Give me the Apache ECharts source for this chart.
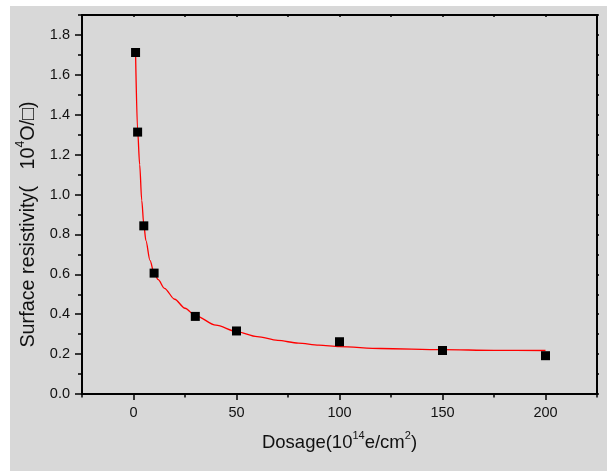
<!DOCTYPE html>
<html>
<head>
<meta charset="utf-8">
<script src="https://cdn.jsdelivr.net/npm/echarts@6/dist/echarts.min.js"></script>
<style>
html,body{margin:0;padding:0;background:#ffffff;}
#chart{width:607px;height:471px;}
</style>
</head>
<body>
<div id="chart"></div>
<script>
// measured data points
var dosage = [1, 2, 5, 10, 30, 50, 100, 150, 200];
var resistivity = [1.712, 1.313, 0.843, 0.606, 0.389, 0.316, 0.262, 0.218, 0.192];
// fitted curve
var fitX = [1, 2, 3, 4, 5, 6, 8, 10, 12, 15, 20, 25, 30, 40, 50, 60, 70, 80, 90, 100, 120, 150, 175, 200];
var fitY = [1.71, 1.32, 1.15, 0.97, 0.85, 0.77, 0.67, 0.605, 0.573, 0.53, 0.475, 0.43, 0.393, 0.345, 0.313, 0.288, 0.269, 0.255, 0.245, 0.237, 0.228, 0.222, 0.219, 0.218];
// tick labels
var xMajor = [0, 50, 100, 150, 200];
var xMinor = [-25, 25, 75, 125, 175, 225];
var xTop = [-25, 0, 25, 50, 75, 100, 125, 150, 175, 200, 225];
var yMajor = [0, 0.2, 0.4, 0.6, 0.8, 1.0, 1.2, 1.4, 1.6, 1.8];
var yMinor = [0.1, 0.3, 0.5, 0.7, 0.9, 1.1, 1.3, 1.5, 1.7, 1.9];
var yRight = [0, 0.1, 0.2, 0.3, 0.4, 0.5, 0.6, 0.7, 0.8, 0.9, 1.0, 1.1, 1.2, 1.3, 1.4, 1.5, 1.6, 1.7, 1.8, 1.9];

var FONT = '"Liberation Sans", Arial, sans-serif';
var INK = '#111111';
var lineStyle = {color: '#000', width: 2};

function pairs(xs, ys) { return xs.map(function (x, i) { return [x, ys[i]]; }); }

var chart = echarts.init(document.getElementById('chart'), null, {renderer: 'canvas'});
var option = {
  backgroundColor: '#ffffff',
  animation: false,
  textStyle: {fontFamily: FONT},
  graphic: [{
    type: 'rect', z: -10, silent: true,
    shape: {x: 10, y: 6, width: 597, height: 465},
    style: {fill: '#d8d8d8'}
  }],
  grid: {left: 82, right: 10, top: 15, bottom: 77, containLabel: false},
  xAxis: [
    {
      type: 'value', position: 'bottom', min: -25, max: 225,
      axisLine: {show: true, onZero: false, lineStyle: lineStyle},
      axisTick: {show: true, customValues: xMajor, length: 6, lineStyle: {color: '#000', width: 1.5}},
      axisLabel: {customValues: xMajor, fontSize: 14.5, color: INK, margin: 11, fontFamily: FONT},
      splitLine: {show: false},
      name: '{m|Dosage(10}{s|14}{m|e/cm}{s|2}{m|)}',
      nameLocation: 'middle', nameGap: 36,
      nameTextStyle: {
        fontFamily: FONT, color: INK, fontSize: 18.5,
        rich: {
          m: {fontSize: 18.5, fontFamily: FONT, color: INK, lineHeight: 22, verticalAlign: 'bottom'},
          s: {fontSize: 11, fontFamily: FONT, color: INK, lineHeight: 22, verticalAlign: 'top', padding: [0, 0, 8, 0]}
        }
      }
    },
    {
      type: 'value', position: 'bottom', min: -25, max: 225,
      axisLine: {show: false, onZero: false},
      axisTick: {show: true, customValues: xMinor, length: 3.5, lineStyle: {color: '#000', width: 1.5}},
      axisLabel: {show: false},
      splitLine: {show: false}
    },
    {
      type: 'value', position: 'top', min: -25, max: 225,
      axisLine: {show: true, onZero: false, lineStyle: lineStyle},
      axisTick: {show: true, inside: true, customValues: xTop, length: 2, lineStyle: {color: '#000', width: 1.5}},
      axisLabel: {show: false},
      splitLine: {show: false}
    }
  ],
  yAxis: [
    {
      type: 'value', position: 'left', min: 0, max: 1.9,
      axisLine: {show: true, onZero: false, lineStyle: lineStyle},
      axisTick: {show: true, customValues: yMajor, length: 7, lineStyle: {color: '#000', width: 1.5}},
      axisLabel: {customValues: yMajor, fontSize: 14.5, color: INK, margin: 12, fontFamily: FONT,
        formatter: function (v) { return v.toFixed(1); }},
      splitLine: {show: false},
      name: '{m|Surface resistivity(   10}{s|4}{m|O/\u25A1)}',
      nameLocation: 'middle', nameRotate: 90, nameGap: 42,
      nameTextStyle: {
        fontFamily: FONT, color: INK, fontSize: 19.8,
        padding: [0, 40, 0, 0],
        rich: {
          m: {fontSize: 19.8, fontFamily: FONT, color: INK, lineHeight: 24, verticalAlign: 'bottom'},
          s: {fontSize: 12, fontFamily: FONT, color: INK, lineHeight: 24, verticalAlign: 'top', padding: [0, 0, 9, 0]}
        }
      }
    },
    {
      type: 'value', position: 'left', min: 0, max: 1.9,
      axisLine: {show: false, onZero: false},
      axisTick: {show: true, customValues: yMinor, length: 4, lineStyle: {color: '#000', width: 1.5}},
      axisLabel: {show: false},
      splitLine: {show: false}
    },
    {
      type: 'value', position: 'right', min: 0, max: 1.9,
      axisLine: {show: true, onZero: false, lineStyle: lineStyle},
      axisTick: {show: true, customValues: yRight, length: 2, lineStyle: {color: '#000', width: 1.5}},
      axisLabel: {show: false},
      splitLine: {show: false}
    }
  ],
  series: [
    {
      type: 'line', xAxisIndex: 0, yAxisIndex: 0,
      data: pairs(fitX, fitY),
      showSymbol: false, symbol: 'none',
      smooth: 0.3, smoothMonotone: 'x',
      lineStyle: {color: '#ff0000', width: 1.3},
      z: 2
    },
    {
      type: 'scatter', xAxisIndex: 0, yAxisIndex: 0,
      data: pairs(dosage, resistivity),
      symbol: 'rect', symbolSize: 9,
      itemStyle: {color: '#000000', opacity: 1},
      z: 3
    }
  ]
};
chart.setOption(option);
</script>
</body>
</html>
